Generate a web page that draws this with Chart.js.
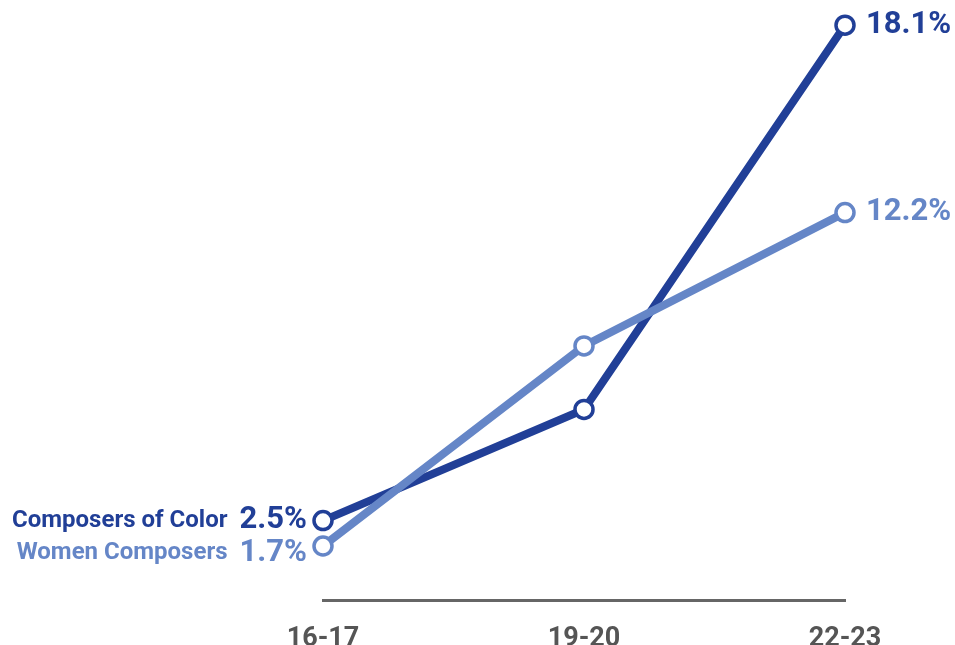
<!DOCTYPE html>
<html>
<head>
<meta charset="utf-8">
<script src="https://cdn.jsdelivr.net/npm/chart.js@4"></script>
<style>
  html, body { margin: 0; padding: 0; background: #ffffff; }
  #wrap { width: 955px; height: 645px; position: relative; }
</style>
</head>
<body>
<div id="wrap"><canvas id="chart"></canvas></div>
<script>
// Season categories
const seasons = ['16-17', '19-20', '22-23'];
// Share of works programmed (%)
const womenComposers = [1.7, 8.0, 12.2];
const composersOfColor = [2.5, 6.0, 18.1];
// Series names
const seriesNames = ['Women Composers', 'Composers of Color'];

const DARK = '#213f97';
const LIGHT = '#6586c7';
const FONT = 'Roboto, "Liberation Sans", sans-serif';

// Draws the series names and value labels at the line ends
const endLabels = {
  id: 'endLabels',
  afterDatasetsDraw(chart) {
    const ctx = chart.ctx;
    const x = chart.scales.x, y = chart.scales.y;
    ctx.save();
    ctx.textBaseline = 'middle';
    chart.data.datasets.forEach((ds) => {
      const first = ds.data[0], last = ds.data[ds.data.length - 1];
      const x0 = x.getPixelForValue(0);
      const x1 = x.getPixelForValue(ds.data.length - 1);
      const y0 = y.getPixelForValue(first) + ds.startNudge;
      const y1 = y.getPixelForValue(last);
      ctx.fillStyle = ds.borderColor;
      // starting value and series name
      ctx.textAlign = 'right';
      ctx.font = 'bold 31px ' + FONT;
      const startTxt = first.toFixed(1) + '%';
      ctx.fillText(startTxt, x0 - 16, y0);
      const w = ctx.measureText(startTxt).width;
      ctx.font = 'bold 24px ' + FONT;
      ctx.fillText(ds.label, x0 - 16 - w - 12, y0);
      // ending value
      ctx.textAlign = 'left';
      ctx.font = 'bold 31px ' + FONT;
      ctx.fillText(last.toFixed(1) + '%', x1 + 21, y1);
    });
    ctx.restore();
  }
};

new Chart(document.getElementById('chart'), {
  type: 'line',
  data: {
    labels: seasons,
    datasets: [
      {
        label: seriesNames[0],
        data: womenComposers,
        borderColor: LIGHT,
        backgroundColor: '#ffffff',
        startNudge: 7
      },
      {
        label: seriesNames[1],
        data: composersOfColor,
        borderColor: DARK,
        backgroundColor: '#ffffff',
        startNudge: 0
      }
    ]
  },
  options: {
    responsive: true,
    maintainAspectRatio: false,
    animation: false,
    devicePixelRatio: 1,
    layout: { padding: { left: 323, right: 110, top: 12, bottom: 0 } },
    elements: {
      line: { borderWidth: 8, tension: 0, borderCapStyle: 'round' },
      point: { radius: 9, borderWidth: 3.5, hoverRadius: 9 }
    },
    datasets: { line: { clip: false } },
    plugins: { legend: { display: false }, tooltip: { enabled: false } },
    scales: {
      x: {
        type: 'category',
        offset: false,
        grid: { display: false, drawTicks: false },
        border: { display: true, color: '#666666', width: 3 },
        ticks: {
          color: '#555555',
          font: { family: FONT, size: 27, weight: 'bold' },
          padding: 23,
          maxRotation: 0,
          autoSkip: false
        },
        afterFit(scale) { scale.height = 45; }
      },
      y: {
        display: false,
        min: 0,
        max: 18.5
      }
    }
  },
  plugins: [endLabels]
});
</script>
</body>
</html>
